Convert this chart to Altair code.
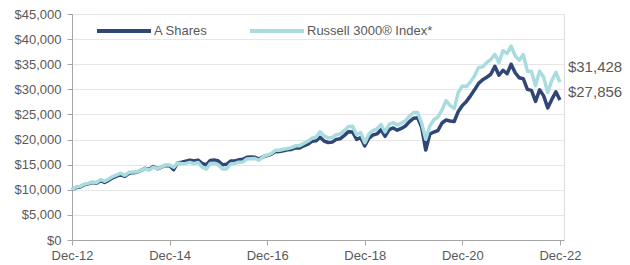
import altair as alt
import pandas as pd

FONT = "Liberation Sans"

tick_labels = ["Dec-12", "Dec-14", "Dec-16", "Dec-18", "Dec-20", "Dec-22"]
series_names = ["A Shares", "Russell 3000® Index*"]
series_colors = ["#2F4676", "#A8DCDF"]
end_labels = ["$27,856", "$31,428"]

# Month-end growth of $10,000, Dec-12 .. Dec-22 (one row per year)
a_shares = [
    10000,
    10435, 10570, 10982, 11169, 11437, 11289, 11800, 11470, 11883, 12382, 12704, 13034,
    12681, 13277, 13411, 13492, 13845, 14262, 14046, 14636, 14187, 14497, 14845, 14771,
    13994, 15343, 15494, 15709, 15912, 15718, 15907, 15243, 14942, 15818, 15913, 15729,
    14989, 15060, 15736, 15755, 15961, 16070, 16471, 16520, 16471, 16109, 16585, 16816,
    17049, 17590, 17608, 17784, 17961, 18031, 18374, 18317, 18757, 19071, 19643, 19737,
    20460, 19703, 19410, 19489, 20034, 20174, 20840, 21570, 21499, 20013, 20413, 18708,
    20212, 20919, 21123, 21968, 20648, 21977, 22307, 21861, 22210, 22699, 23562, 24245,
    24348, 22420, 17900, 21100, 21500, 21800, 23300, 23900, 23700, 23600, 25600, 26800,
    27600, 28700, 29900, 31200, 31900, 32400, 33000, 34600, 32800, 33800, 33100, 35000,
    33300, 32300, 32100, 30000, 29800, 27600, 29900, 28700, 26300, 28000, 29500, 27856,
]
russell = [
    10000,
    10540, 10677, 11093, 11282, 11553, 11403, 12041, 11704, 12125, 12635, 12963, 13300,
    12874, 13479, 13546, 13560, 13845, 14191, 13907, 14491, 14187, 14570, 14920, 14920,
    14502, 15343, 15190, 15251, 15449, 15186, 15444, 14517, 14096, 15210, 15301, 14980,
    14141, 14141, 15131, 15222, 15496, 15527, 16148, 16196, 16228, 15871, 16585, 16900,
    17221, 17858, 17876, 18055, 18235, 18399, 18749, 18787, 19238, 19661, 20251, 20453,
    21537, 20740, 20325, 20407, 20978, 21125, 21822, 22586, 22631, 20956, 21375, 19387,
    21054, 21791, 22118, 23003, 21508, 23013, 23358, 22891, 23257, 23769, 24672, 25388,
    25363, 23283, 20070, 22719, 23946, 24497, 25893, 27757, 26758, 26169, 29362, 30683,
    30560, 31507, 32641, 34338, 34475, 35337, 35938, 36980, 35316, 37717, 37152, 38601,
    36690, 35770, 36910, 33590, 33560, 30740, 33630, 32390, 29370, 31750, 33400, 31428,
]

months = list(range(len(a_shares)))
df_a = pd.DataFrame({"m": months, "v": a_shares, "s": series_names[0]})
df_r = pd.DataFrame({"m": months, "v": russell, "s": series_names[1]})
df_end = pd.DataFrame({
    "m": [months[-1], months[-1]],
    "v": [a_shares[-1], russell[-1]],
    "t": end_labels,
})

label_expr = "[" + ",".join("'" + t + "'" for t in tick_labels) + "][round(datum.value / 24)]"

x = alt.X(
    "m:Q",
    scale=alt.Scale(domain=[0, 121], nice=False, zero=False),
    axis=alt.Axis(
        values=[0, 24, 48, 72, 96, 120], labelExpr=label_expr, title=None, grid=False,
        domainColor="#A6A6A6", tickColor="#A6A6A6", tickSize=5, labelPadding=4,
        labelFontSize=13, labelColor="#595959", labelFont=FONT, labelFlush=False,
        labelOverlap=False,
    ),
)
y = alt.Y(
    "v:Q",
    scale=alt.Scale(domain=[0, 45000], nice=False),
    axis=alt.Axis(
        values=list(range(0, 45001, 5000)), format="$,.0f", title=None,
        gridColor="#E6E6E6", gridWidth=1, domainColor="#A6A6A6", tickColor="#A6A6A6",
        tickSize=5, labelPadding=6, labelFontSize=13, labelColor="#595959", labelFont=FONT,
        labelOverlap=False, labelFlush=False,
    ),
)
color = alt.Color(
    "s:N",
    scale=alt.Scale(domain=series_names, range=series_colors),
    legend=alt.Legend(
        title=None, orient="none", legendX=23, legendY=-12, direction="horizontal",
        symbolType="stroke", symbolSize=2916, symbolStrokeWidth=4, labelFontSize=13,
        labelColor="#595959", labelFont=FONT, labelOffset=1, columnPadding=34, padding=0,
    ),
)

line_a = alt.Chart(df_a).mark_line(strokeWidth=3.5, strokeJoin="round").encode(x=x, y=y, color=color)
line_r = alt.Chart(df_r).mark_line(strokeWidth=3.5, strokeJoin="round").encode(x=x, y=y, color=color)

text_a = alt.Chart(df_end.iloc[[0]]).mark_text(
    align="left", baseline="middle", dx=8, dy=-8, fontSize=15, color="#595959", font=FONT
).encode(x=x, y=y, text="t:N")
text_r = alt.Chart(df_end.iloc[[1]]).mark_text(
    align="left", baseline="middle", dx=8, dy=-15, fontSize=15, color="#595959", font=FONT
).encode(x=x, y=y, text="t:N")

chart = (
    alt.layer(line_a, line_r, text_a, text_r)
    .properties(
        width=492, height=226,
        autosize=alt.AutoSizeParams(type="none"),
        padding={"left": 64, "top": 6, "right": 58, "bottom": 25},
    )
    .configure_view(stroke="#E0E0E0")
    .configure(font=FONT)
)

chart.save("out.html", embed_options={"renderer": "svg", "actions": False})
